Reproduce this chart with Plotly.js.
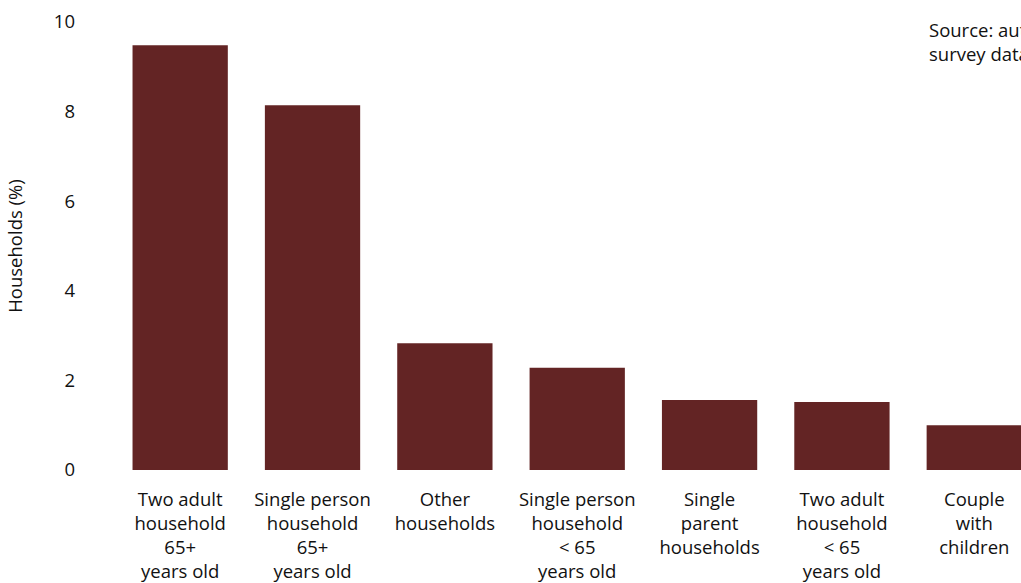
<!DOCTYPE html>
<html>
<head>
<meta charset="utf-8">
<script src="https://cdn.plot.ly/plotly-3.0.1.min.js"></script>
<style>
html,body{margin:0;padding:0;background:#fff;overflow:hidden;}
#chart{width:1021px;height:583px;}
</style>
</head>
<body>
<div id="chart"></div>
<script>
const categories = [
  "Two adult<br>household<br>65+<br>years old",
  "Single person<br>household<br>65+<br>years old",
  "Other<br>households",
  "Single person<br>household<br>< 65<br>years old",
  "Single<br>parent<br>households",
  "Two adult<br>household<br>< 65<br>years old",
  "Couple<br>with<br>children"
];
const values = [9.48, 8.14, 2.83, 2.28, 1.56, 1.52, 1.0];
const yTicks = [0, 2, 4, 6, 8, 10];
const sourceText = "Source: authors' analysis of<br>survey data";

const fontFamily = "'Open Sans', 'Noto Sans', sans-serif";
const fs = 18.5;

const trace = {
  type: 'bar',
  x: categories.map((c, i) => i),
  y: values,
  marker: {color: '#632424'},
  hoverinfo: 'skip'
};

const layout = {
  width: 1021,
  height: 583,
  margin: {l: 114, r: 0, t: 22, b: 113},
  paper_bgcolor: '#fff',
  plot_bgcolor: '#fff',
  bargap: 0.28,
  showlegend: false,
  font: {family: fontFamily, size: fs, color: '#111'},
  xaxis: {
    range: [-0.5, 6.353],
    tickmode: 'array',
    tickvals: categories.map((c, i) => i),
    ticktext: categories,
    showgrid: false, zeroline: false, showline: false,
    ticks: '',
    ticklabelstandoff: 16,
    tickfont: {family: fontFamily, size: fs, color: '#111'},
    fixedrange: true
  },
  yaxis: {
    range: [0, 10],
    tickmode: 'array',
    tickvals: yTicks,
    ticktext: yTicks.map(String),
    showgrid: false, zeroline: false, showline: false,
    ticks: '',
    ticklabelstandoff: 38,
    tickfont: {family: fontFamily, size: fs, color: '#111'},
    title: {text: 'Households (%)', font: {family: fontFamily, size: fs, color: '#111'}, standoff: 26},
    automargin: false,
    fixedrange: true
  },
  annotations: [{
    xref: 'paper', yref: 'paper',
    x: (927 - 114) / (1021 - 114), y: 1.015,
    xanchor: 'left', yanchor: 'top',
    align: 'left',
    text: sourceText,
    showarrow: false,
    font: {family: fontFamily, size: fs, color: '#111'}
  }]
};

Plotly.newPlot('chart', [trace], layout, {displayModeBar: false, staticPlot: true});
</script>
</body>
</html>
